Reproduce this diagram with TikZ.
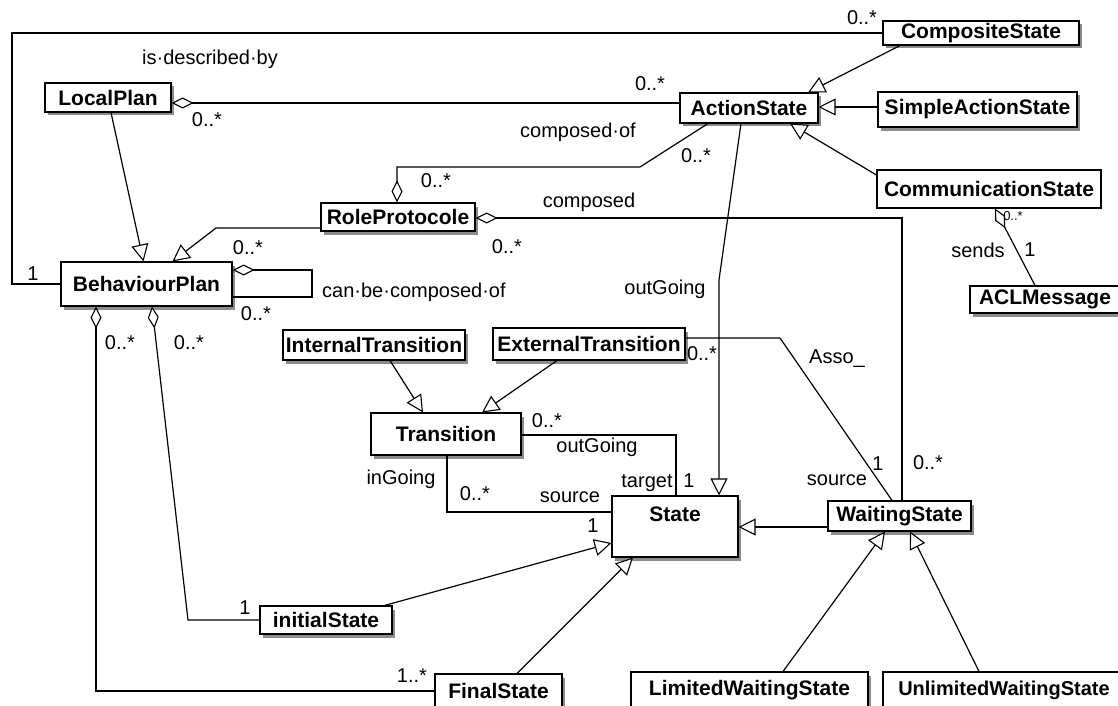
\documentclass[tikz,border=0pt]{standalone}
\usepackage{fontspec}
\setmainfont{Liberation Sans}
\usetikzlibrary{arrows.meta,shadows}
\begin{document}
\begin{tikzpicture}[x=1pt,y=-1pt,
  base/.style={draw, fill=white, line width=1.1pt, inner sep=0pt,
    font=\fontsize{21}{23}\selectfont\bfseries},
  cls/.style={base, drop shadow={shadow xshift=3pt, shadow yshift=-3.5pt, fill=black!45, opacity=1}},
  box/.style 2 args={minimum width=#1pt, minimum height=#2pt},
  lbl/.style={font=\fontsize{20}{22}\selectfont, inner sep=0pt, text height=14pt, text depth=0pt},
  link/.style={line width=1.2pt},
  gen/.style={link, -{Triangle[length=17pt,width=17pt,fill=white,line width=1.1pt]}},
  agg/.style={link, {Diamond[length=22pt,width=11pt,fill=white,line width=1.1pt]}-},
]
\clip (0,0) rectangle (1118,706);
\fill[white] (0,0) rectangle (1118,706);

% classes
\node[cls, box={196}{24}] (comp)   at (981,33)    {CompositeState};
\node[cls, box={126}{29}] (local)  at (108,97.5)  {LocalPlan};
\node[cls, box={138}{30}] (action) at (749,108)   {ActionState};
\node[cls, box={199}{35}] (simple) at (977.5,109.5) {SimpleActionState};
\node[base, box={224}{38}] (comm)  at (989,189)   {CommunicationState};
\node[cls, box={154}{28}] (role)   at (398,217)   {RoleProtocole};
\node[cls, box={171}{44}] (bplan)  at (146.5,284) {BehaviourPlan};
\node[cls, box={150}{27}] (acl)    at (1045,299.5) {ACLMessage};
\node[cls, box={182}{30}] (itrans) at (374,345)   {InternalTransition};
\node[cls, box={192}{32}] (etrans) at (589,344)   {ExternalTransition};
\node[cls, box={150}{42}] (trans)  at (446,434)   {Transition};
\node[cls, box={126}{61}, text height=22pt, text depth=33pt] (state) at (675,526.5) {State};
\node[cls, box={143}{30}] (wait)   at (899.5,516) {WaitingState};
\node[cls, box={132}{28}] (init)   at (326,620)   {initialState};
\node[cls, box={127}{34}] (final)  at (498.5,691) {FinalState};
\node[cls, box={237}{36}] (lwait)  at (749.5,690) {LimitedWaitingState};
\node[base, box={242}{36}, font=\fontsize{20}{22}\selectfont\bfseries] (uwait) at (1004,690) {UnlimitedWaitingState};

% associations and aggregations
\draw[link] (bplan.west) -| (12,33) -- (comp.west);
\draw[agg] (local.east |- 0,103) -- (action.west |- 0,103);
\draw[agg] (role.north -| 397,0) |- (640,167) -- (action.south -| 708,0);
\draw[agg] (role.east |- 0,218) -| (wait.north -| 902,0);
\draw[agg] (bplan.east |- 0,270) -- (312,270) |- (bplan.east |- 0,297);
\draw[agg] (comm.south -| 995,0) -- (acl.north -| 1035,0);
\draw[link] (etrans.east |- 0,338) -- (780,338) -- (wait.north -| 892,0);
\draw[link] (trans.east |- 0,435) -| (state.north -| 676,0);
\draw[link] (trans.south -| 447,0) |- (state.west |- 0,512);
\draw[agg] (bplan.south -| 152,0) -- (188,620) -- (init.west);
\draw[agg] (bplan.south -| 96,0) |- (final.west);

% generalizations
\draw[gen] ([xshift=3pt]local.south) -- ([xshift=-3pt]bplan.north);
\draw[gen] (role.west |- 0,228) -- (216,228) -- ([xshift=26pt]bplan.north);
\draw[gen] (action.south -| 741,0) -- (719,280) -- (state.north -| 719,0);
\draw[gen] (comp.south -| 900,0) -- (action.north -| 808,0);
\draw[gen] (simple.west |- 0,107) -- (action.east |- 0,107);
\draw[gen] (comm.west |- 0,175) -- (action.south -| 790,0);
\draw[gen] (itrans.south -| 390,0) -- (trans.north -| 423,0);
\draw[gen] (etrans.south -| 557,0) -- (trans.north -| 482,0);
\draw[gen] (wait.west |- 0,527) -- (state.east |- 0,527);
\draw[gen] ([xshift=-8pt]init.north east) -- (state.west |- 0,543);
\draw[gen] (final.north -| 517,0) -- (state.south -| 633,0);
\draw[gen] (lwait.north -| 783,0) -- (wait.south -| 885,0);
\draw[gen] (uwait.north -| 979,0) -- (wait.south -| 910,0);

% role names and multiplicities
\node[lbl] (l1)  at (210,58)  {is·described·by};
\node[lbl] (l2)  at (33,273)  {1};
\node[lbl] (l3)  at (862,18)  {0..*};
\node[lbl] (l4)  at (207,120) {0..*};
\node[lbl] (l5)  at (650,84)  {0..*};
\node[lbl] (l6)  at (578,130) {composed·of};
\node[lbl] (l7)  at (696,155) {0..*};
\node[lbl] (l8)  at (436,180) {0..*};
\node[lbl] (l9)  at (589,200) {composed};
\node[lbl] (l10) at (507,246) {0..*};
\node[lbl] (l11) at (248,247) {0..*};
\node[lbl] (l12) at (256,313) {0..*};
\node[lbl, anchor=west] (l13) at (322,290) {can·be·composed·of};
\node[lbl] (l14) at (665,287) {outGoing};
\node[lbl] (l15) at (120,342) {0..*};
\node[lbl] (l16) at (189,342) {0..*};
\node[lbl] (l17) at (702,353) {0..*};
\node[lbl] (l18) at (837,356) {Asso\_};
\node[lbl, font=\fontsize{13}{14}\selectfont, text height=9pt] (l19) at (1013,216) {0..*};
\node[lbl] (l20) at (978,250) {sends};
\node[lbl] (l21) at (1030,249) {1};
\node[lbl] (l22) at (547,420) {0..*};
\node[lbl] (l23) at (597,445) {outGoing};
\node[lbl] (l24) at (401,477) {inGoing};
\node[lbl] (l25) at (475,493) {0..*};
\node[lbl] (l26) at (570,495) {source};
\node[lbl] (l27) at (593,525) {1};
\node[lbl] (l28) at (647,480) {target};
\node[lbl] (l29) at (689,480) {1};
\node[lbl] (l30) at (837,478) {source};
\node[lbl] (l31) at (878,463) {1};
\node[lbl] (l32) at (928,462) {0..*};
\node[lbl] (l33) at (245,607) {1};
\node[lbl] (l34) at (412,675) {1..*};
\end{tikzpicture}
\end{document}
